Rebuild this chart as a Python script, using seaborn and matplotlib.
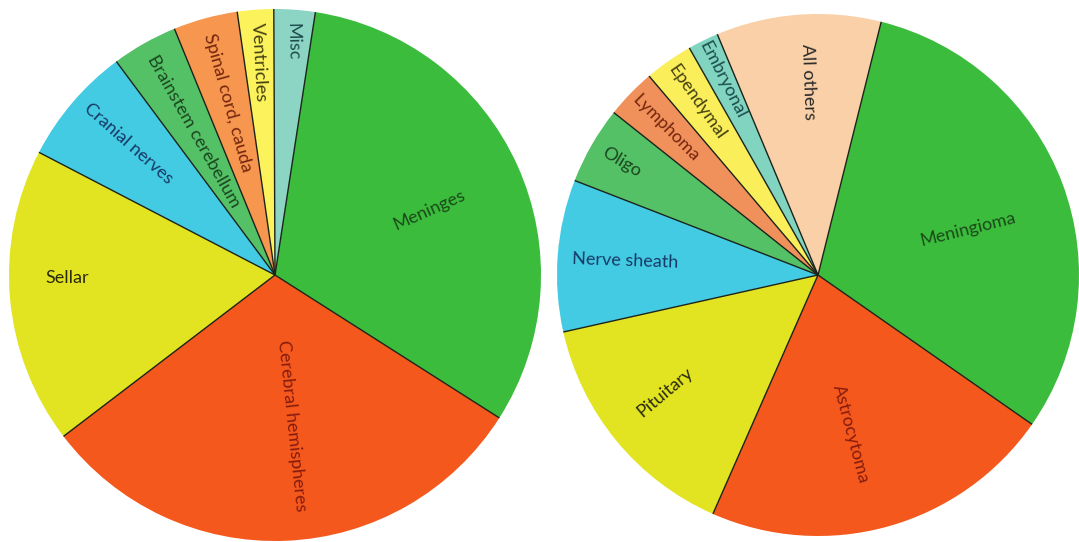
import numpy as np
import matplotlib
matplotlib.use("Agg")
import matplotlib.pyplot as plt
import seaborn as sns

# Share of tumours by site (left) and by histology (right), percent
site_labels = ["Meninges", "Misc", "Ventricles", "Spinal cord, cauda",
               "Brainstem cerebellum", "Cranial nerves", "Sellar",
               "Cerebral hemispheres"]
site_values = [31.6, 2.5, 2.2, 3.9, 4.0, 7.2, 18.0, 30.6]

histo_labels = ["Meningioma", "All others", "Embryonal", "Ependymal",
                "Lymphoma", "Oligo", "Nerve sheath", "Pituitary",
                "Astrocytoma"]
histo_values = [30.8, 10.2, 1.9, 3.0, 3.1, 4.8, 9.4, 14.9, 21.9]

# Styling
site_colors = ["#3cbc3c", "#8cd5c4", "#fbf25c", "#f6964f",
               "#55c166", "#44cbe4", "#e2e421", "#f4581c"]
site_text = ["#1a4a1a", "#1d4c4c", "#444010", "#74260e",
             "#1a4620", "#163a66", "#2a2a0a", "#861c0e"]
site_rfrac = [0.63, 0.88, 0.80, 0.67, 0.62, 0.74, 0.78, 0.57]
site_nudge = [-1.5, 0.0, 0.0, 0.0, 0.0, -1.5, -4.0, 4.0]
site_rot = [24, -89, -87, -74.5, -60.5, -41.5, 0, -84]

histo_colors = ["#3cbc3c", "#f9d0a7", "#80d4c0", "#faee5a",
                "#f0905a", "#55c166", "#44cbe4", "#e2e421", "#f4581c"]
histo_text = ["#1a4a1a", "#2a2a2a", "#1d4c4c", "#444010",
              "#74260e", "#1a4620", "#163a66", "#2a2a0a", "#861c0e"]
histo_rfrac = [0.60, 0.74, 0.83, 0.81, 0.81, 0.87, 0.74, 0.74, 0.62]
histo_nudge = [-3.5, -1.5, 0.0, 0.0, 0.0, 0.0, 0.0, -2.0, -4.0]
histo_rot = [14, -88, -63, -55, -45, -31, -2, 40, -75]

sns.set_theme(style="white")
plt.rcParams["font.family"] = ["Lato", "DejaVu Sans"]

W, H = 1079, 542
fig = plt.figure(figsize=(W / 100, H / 100), dpi=100)
fig.patch.set_facecolor("white")


def pie_axes(cx, cy, r):
    return fig.add_axes([(cx - r) / W, (H - cy - r) / H, 2 * r / W, 2 * r / H])


def draw_pie(ax, values, colors, labels, tcolors, rfrac, nudge, rot, start):
    ax.pie(values, colors=sns.color_palette(colors), startangle=start,
           counterclock=True, radius=1.0,
           wedgeprops=dict(edgecolor="none", linewidth=0, antialiased=True))
    frac = np.asarray(values, dtype=float) / np.sum(values)
    bounds = start + 360.0 * np.concatenate([[0.0], np.cumsum(frac)])
    # radial separators between wedges
    for a in bounds[:-1]:
        t = np.deg2rad(a)
        ax.plot([0, np.cos(t)], [0, np.sin(t)], color="#1b231b",
                lw=1.0, solid_capstyle="butt", zorder=3)
    mids = (bounds[:-1] + bounds[1:]) / 2.0
    for lab, m, tc, rf, dn, rr in zip(labels, mids, tcolors, rfrac, nudge, rot):
        t = np.deg2rad(m + dn)
        ax.text(rf * np.cos(t), rf * np.sin(t), lab, rotation=rr,
                rotation_mode="anchor", ha="center", va="center",
                color=tc, fontsize=13, zorder=4)
    ax.set_xlim(-1, 1)
    ax.set_ylim(-1, 1)
    ax.set_aspect("equal")
    ax.axis("off")


ax1 = pie_axes(275, 275, 266)
draw_pie(ax1, site_values, site_colors, site_labels, site_text,
         site_rfrac, site_nudge, site_rot, -32.5)

ax2 = pie_axes(818, 275, 261)
draw_pie(ax2, histo_values, histo_colors, histo_labels, histo_text,
         histo_rfrac, histo_nudge, histo_rot, -34.9)

fig.savefig("out.png", dpi=100, facecolor="white")
